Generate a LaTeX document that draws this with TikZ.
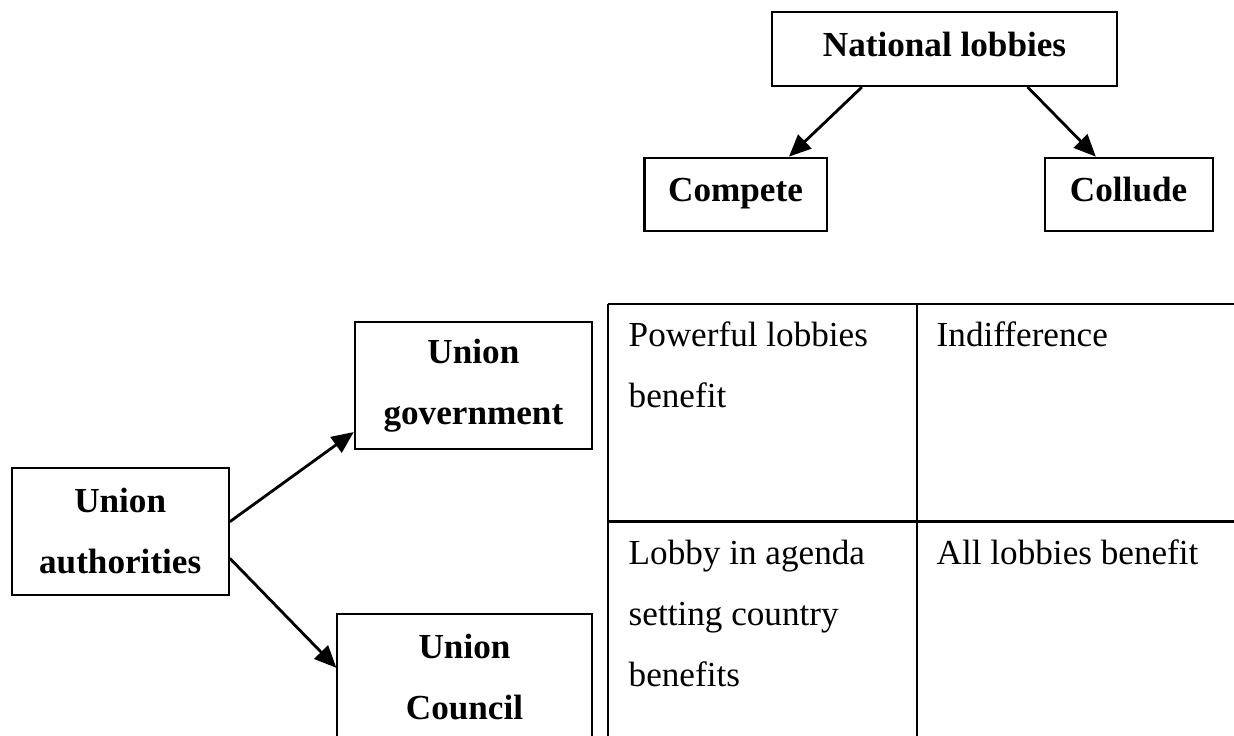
\documentclass[tikz,border=0pt]{standalone}
\usepackage{fontspec}
\setmainfont{Liberation Serif}
\usetikzlibrary{arrows.meta}

\tikzset{
    box/.style={draw, line width=0.6pt, inner sep=0pt, align=center,
        font=\fontsize{10}{17.4}\selectfont\bfseries},
    onebox/.style={box, text height=0.24cm, text depth=0.1cm},
    link/.style={-{Triangle[length=2.2mm,width=1.9mm]}, line width=0.8pt},
    cell/.style={inner sep=0pt, anchor=north west, align=left,
        font=\fontsize{10}{17.4}\selectfont},
    grid/.style={line width=0.7pt}
}

\begin{document}
\begin{tikzpicture}[x=0.01cm, y=-0.01cm]
    \useasboundingbox (0,0) rectangle (1234,735);
    \clip (0,0) rectangle (1234,735);

    % Draw the lobby boxes
    \node[onebox, minimum width=3.45cm, minimum height=0.74cm] (lobbies) at (944.5,49) {National lobbies};
    \node[onebox, minimum width=1.82cm, minimum height=0.73cm] (compete) at (735.5,194.2) {Compete};
    \node[onebox, minimum width=1.68cm, minimum height=0.73cm] (collude) at (1128.6,194.2) {Collude};

    % Draw the authority boxes
    \node[box, minimum width=2.17cm, minimum height=1.27cm] (authorities) at (120.2,531.1) {Union\\authorities};
    \node[box, minimum width=2.37cm, minimum height=1.27cm] (government) at (473.4,385.4) {Union\\government};
    \node[box, minimum width=2.54cm, minimum height=1.27cm, anchor=north] (council) at (464.5,612.7) {Union\\Council};

    % Draw the arrows
    \draw[link] ([xshift=0.91cm]lobbies.south west) -- ([xshift=1.455cm]compete.north west);
    \draw[link] ([xshift=-0.905cm]lobbies.south east) -- ([xshift=0.523cm]collude.north west);
    \draw[link] ([yshift=0.094cm]authorities.east) -- ([yshift=-0.466cm]government.west);
    \draw[link] ([yshift=-0.272cm]authorities.east) -- ([yshift=0.095cm]council.west);

    % Draw the table grid
    \draw[grid] (608,304) -- (1240,304);
    \draw[grid] (608,521.7) -- (1240,521.7);
    \foreach \x in {608, 917} {
        \draw[grid] (\x,304) -- (\x,745);
    }

    % Fill in the cells
    \node[cell] (powerful) at (628,321) {Powerful lobbies\\benefit};
    \node[cell] (indiff) at (936,321) {Indifference};
    \node[cell] (agenda) at (628,539) {Lobby in agenda\\setting country\\benefits};
    \node[cell] (all) at (936,539) {All lobbies benefit};

\end{tikzpicture}
\end{document}
